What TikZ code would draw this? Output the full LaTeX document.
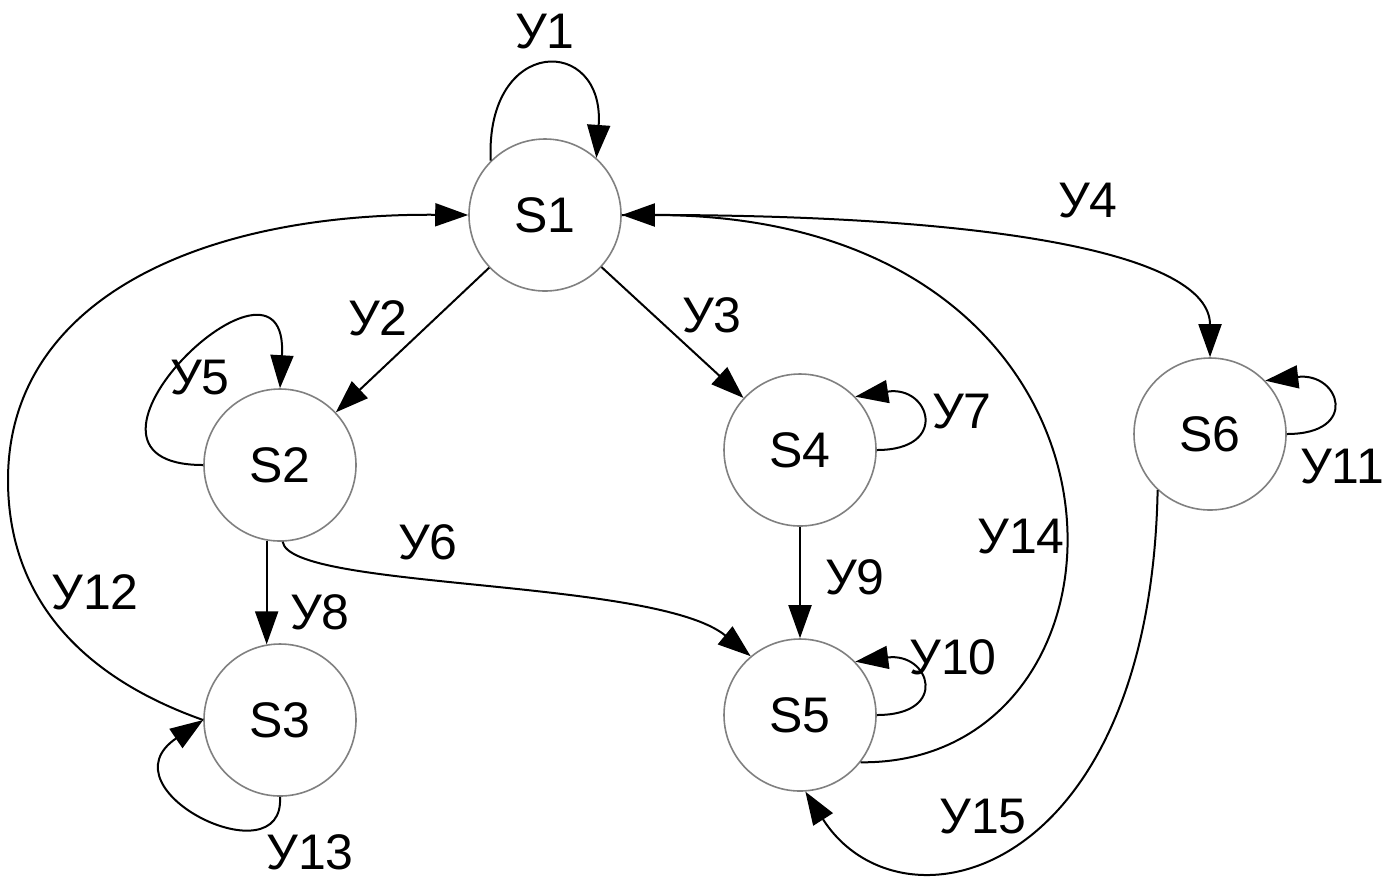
\documentclass[tikz,border=0pt]{standalone}
\usepackage{fontspec}
\setmainfont{Liberation Sans}
\usetikzlibrary{arrows.meta}
\definecolor{ringgray}{RGB}{128,128,128}
\begin{document}
\begin{tikzpicture}[x=0.5pt,y=-0.5pt,
  state/.style={circle,draw=ringgray,line width=0.8pt,minimum size=76pt,inner sep=0pt,
    font=\fontsize{25}{29}\selectfont},
  lbl/.style={font=\fontsize{25}{29}\selectfont,inner sep=0pt},
  edge/.style={draw=black,line width=1pt,-{Triangle[length=16.5pt,width=11.5pt]}},
  plainedge/.style={draw=black,line width=1pt}]
\fill[white] (0,0) rectangle (1400,880);
\useasboundingbox (0,0) rectangle (1400,880);

% states
\node[state] (S1) at (545,215) {S1};
\node[state] (S2) at (280,465) {S2};
\node[state] (S3) at (280,720) {S3};
\node[state] (S4) at (800,450) {S4};
\node[state] (S5) at (800,715) {S5};
\node[state] (S6) at (1210,434) {S6};

% turning point of the long left-hand arc
\coordinate (w) at (8,480);

% transitions
\draw[edge] (S1.135) .. controls (485,35) and (605,35) .. (S1.48);
\draw[edge] (S1) -- (S2);
\draw[edge] (S1) -- (S4);
\draw[edge] (S1.east) .. controls (1000,213) and (1210,255) .. (S6.north);
\draw[edge] (S2.180) .. controls (35,465) and (290,220) .. (S2.90);
\draw[edge] (S2.-88) .. controls (290,590) and (655,578) .. (S5.130);
\draw[edge] (S4.east) .. controls (950,450) and (930,385) .. (S4.44);
\draw[edge] (S2.260) -- (S3.100);
\draw[edge] (S4) -- (S5);
\draw[edge] (S5.east) .. controls (950,715) and (930,652) .. (S5.44);
\draw[edge] (S6.east) .. controls (1360,434) and (1340,372) .. (S6.44);
\draw[edge] (S3.west) .. controls (84,678) and (8,600) .. (w)
            .. controls (8,300) and (200,213) .. (S1.west);
\draw[edge] (S3.south) .. controls (285,880) and (100,790) .. (S3.west);
\draw[edge] (S5.-38) .. controls (1160,765) and (1170,215) .. (S1.east);
\draw[edge] (S6.-133) .. controls (1150,880) and (900,940) .. (S5.-86);

% labels
\node[lbl] (l1)  at (545,32)  {У1};
\node[lbl] (l2)  at (378,318) {У2};
\node[lbl] (l3)  at (712,315) {У3};
\node[lbl] (l4)  at (1088,201) {У4};
\node[lbl] (l5)  at (200,378) {У5};
\node[lbl] (l6)  at (428,542) {У6};
\node[lbl] (l7)  at (962,412) {У7};
\node[lbl] (l8)  at (320,612) {У8};
\node[lbl] (l9)  at (855,577) {У9};
\node[lbl] (l10) at (953,657) {У10};
\node[lbl] (l11) at (1342,467) {У11};
\node[lbl] (l12) at (95,592)  {У12};
\node[lbl] (l13) at (310,852) {У13};
\node[lbl] (l14) at (1021,537) {У14};
\node[lbl] (l15) at (983,817) {У15};
\end{tikzpicture}
\end{document}
